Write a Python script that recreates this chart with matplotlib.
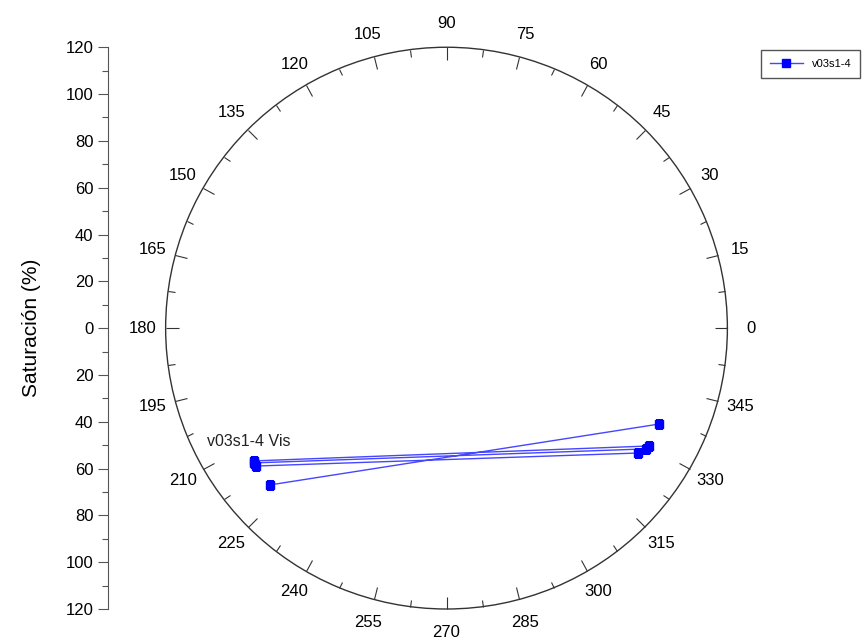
import numpy as np
import matplotlib.pyplot as plt

plt.rcParams['font.family'] = ['Liberation Sans', 'DejaVu Sans']

# data: pairs of points (angle in degrees, saturation %), each pair joined by a line
angles_a = [221.6, 214.6, 215.0, 215.9]
radii_a = [100.9, 99.9, 100.4, 100.5]
angles_b = [335.7, 329.8, 328.8, 326.9]
radii_b = [99.6, 100.1, 99.6, 97.7]

theta_ticks = list(range(0, 360, 15))
sat_ticks = list(range(-120, 121, 20))
series_name = 'v03s1-4'
annotation = 'v03s1-4 Vis'

# build a broken polyline (NaN separates the pairs)
th, rr = [], []
for a1, r1, a2, r2 in zip(angles_a, radii_a, angles_b, radii_b):
    th += [a1, a2, np.nan]
    rr += [r1, r2, np.nan]
th = np.deg2rad(np.array(th))
rr = np.array(rr)

fig = plt.figure(figsize=(8.66, 6.42), dpi=100)

ax = fig.add_axes([0.1911, 0.0514, 0.649, 0.875], projection='polar')
ax.set_ylim(0, 120)
ax.grid(False)
ax.set_yticks([])
ax.set_xticks(np.deg2rad(theta_ticks))
ax.set_xticklabels([])
ax.set_xticks(np.deg2rad(np.arange(7.5, 360, 15)), minor=True)
ax.tick_params(axis='x', which='both', top=True, bottom=False)
ax.tick_params(axis='x', which='major', direction='in', length=9, width=0.8, color='#333333')
ax.tick_params(axis='x', which='minor', direction='in', length=5, width=0.8, color='#333333')
ax.spines['polar'].set_color('#333333')
ax.spines['polar'].set_linewidth(1.0)

for t in theta_ticks:
    ax.text(np.deg2rad(t), 130, str(t), ha='center', va='center', fontsize=12, clip_on=False)

line, = ax.plot(th, rr, color='#4646ff', lw=1.0, marker='s', markersize=6,
                markerfacecolor='#0000ff', markeredgecolor='#0000ff', label=series_name)

ax.text(np.deg2rad(205.3), 113, annotation, ha='left', va='center', fontsize=11.5, color='#222222')

# left saturation axis
ax2 = fig.add_axes([0.1247, 0.0514, 0.01, 0.875])
ax2.set_ylim(-120, 120)
ax2.set_yticks(sat_ticks)
ax2.set_yticklabels([str(abs(v)) for v in sat_ticks], fontsize=12)
ax2.set_yticks(np.arange(-110, 120, 20), minor=True)
ax2.tick_params(axis='y', which='major', direction='out', length=7, width=0.8, color='#555555')
ax2.tick_params(axis='y', which='minor', direction='out', length=4, width=0.8, color='#555555')
ax2.set_xticks([])
for s in ['top', 'right', 'bottom']:
    ax2.spines[s].set_visible(False)
ax2.spines['left'].set_color('#555555')
ax2.patch.set_visible(False)
ax2.set_ylabel('Saturación (%)', fontsize=15, labelpad=18)

fig.legend(handles=[line], loc='upper right', bbox_to_anchor=(1.0, 0.93), fontsize=8,
           fancybox=False, edgecolor='#555555', handlelength=3, borderpad=0.8,
           framealpha=1)

fig.savefig('out.png', dpi=100)
